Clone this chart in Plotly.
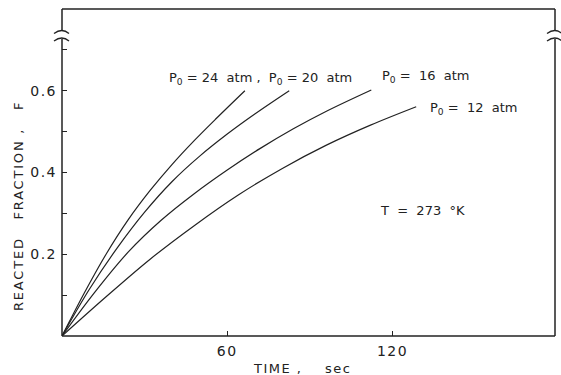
import plotly.graph_objects as go

# ---- data ----
t_24 = [0, 8, 16, 24, 32, 40, 48, 56, 66.4]
F_24 = [0, 0.104, 0.2, 0.284, 0.356, 0.42, 0.478, 0.532, 0.600]

t_20 = [0, 10, 20, 30, 40, 50, 60, 70, 82.5]
F_20 = [0, 0.115, 0.215, 0.303, 0.378, 0.44, 0.494, 0.543, 0.6]

t_16 = [0, 12, 24, 36, 48, 60, 72, 84, 96, 112.3]
F_16 = [0, 0.108, 0.205, 0.283, 0.348, 0.406, 0.459, 0.507, 0.550, 0.602]

t_12 = [0, 16, 32, 48, 64, 80, 96, 112, 128.6]
F_12 = [0, 0.096, 0.188, 0.27, 0.345, 0.41, 0.467, 0.516, 0.561]

x_tickvals = [60, 120]
x_ticktext = ["60", "120"]
y_tickvals = [0.2, 0.4, 0.6]
y_ticktext = ["0.2", "0.4", "0.6"]
y_minor_tickvals = [0.1, 0.3, 0.5, 0.7]

labels = [
    ("P<sub>0</sub> = 24  atm ,  P<sub>0</sub> = 20  atm", 38.2, 0.631),
    ("P<sub>0</sub> =  16  atm", 115.5, 0.634),
    ("P<sub>0</sub> =  12  atm", 132.9, 0.556),
    ("T  =  273  °K", 114.7, 0.308),
]

x_title = "TIME ,    sec"
y_title = "REACTED   FRACTION ,   F"

X_RANGE = [0, 179]
Y_RANGE = [0, 0.8]

W, H = 561, 375
ML, MR, MT, MB = 62, 6, 9, 39
PW, PH = W - ML - MR, H - MT - MB

INK = "#222222"
FONT = "DejaVu Sans"


def spaced(s, px_):
    return '<span style="letter-spacing:{}px">{}</span>'.format(px_, s)


fig = go.Figure()
for t, F in [(t_24, F_24), (t_20, F_20), (t_16, F_16), (t_12, F_12)]:
    fig.add_trace(go.Scatter(x=t, y=F, mode="lines",
                             line=dict(color=INK, width=1.2, shape="spline", smoothing=1),
                             showlegend=False, hoverinfo="skip"))


def px(xp):
    return (xp - ML) / PW


def py(yp):
    return (MT + PH - yp) / PH


shapes = []
lw = 1.5
# frame: bottom, top, left (broken), right (broken)
shapes.append(dict(type="line", xref="paper", yref="paper", x0=0, x1=1, y0=0, y1=0,
                   line=dict(color=INK, width=lw)))
shapes.append(dict(type="line", xref="paper", yref="paper", x0=0, x1=1, y0=1, y1=1,
                   line=dict(color=INK, width=lw)))
for xe in (ML, ML + PW):
    shapes.append(dict(type="line", xref="paper", yref="paper", x0=px(xe), x1=px(xe),
                       y0=0, y1=py(39), line=dict(color=INK, width=lw)))
    shapes.append(dict(type="line", xref="paper", yref="paper", x0=px(xe), x1=px(xe),
                       y0=py(31), y1=1, line=dict(color=INK, width=lw)))
    for ya in (33.5, 41):
        path = "M {:.5f},{:.5f} Q {:.5f},{:.5f} {:.5f},{:.5f}".format(
            px(xe - 8), py(ya), px(xe), py(ya - 6), px(xe + 7), py(ya))
        shapes.append(dict(type="path", xref="paper", yref="paper", path=path,
                           line=dict(color=INK, width=1.3)))

fig.update_layout(
    width=W, height=H,
    margin=dict(l=ML, r=MR, t=MT, b=MB),
    paper_bgcolor="white", plot_bgcolor="white",
    font=dict(family=FONT, color=INK),
    shapes=shapes,
    xaxis=dict(range=X_RANGE, showgrid=False, zeroline=False, showline=False,
               tickmode="array", tickvals=x_tickvals,
               ticktext=[spaced(s, 1.5) for s in x_ticktext],
               ticks="inside", ticklen=5, tickwidth=1.3, tickcolor=INK,
               ticklabelstandoff=5,
               tickfont=dict(size=14, family=FONT, color=INK)),
    yaxis=dict(range=Y_RANGE, showgrid=False, zeroline=False, showline=False,
               tickmode="array", tickvals=y_tickvals,
               ticktext=[spaced(s, 1.5) for s in y_ticktext],
               ticks="inside", ticklen=5, tickwidth=1.3, tickcolor=INK,
               ticklabelstandoff=4,
               tickfont=dict(size=14, family=FONT, color=INK),
               minor=dict(tickmode="array", tickvals=y_minor_tickvals, ticks="inside",
                          ticklen=5, tickwidth=1.3, tickcolor=INK, showgrid=False)),
)

for text, x, y in labels:
    fig.add_annotation(x=x, y=y, xref="x", yref="y", text=text, showarrow=False,
                       xanchor="left", yanchor="middle",
                       font=dict(size=13, family=FONT, color=INK))

fig.add_annotation(x=px(302), y=py(368), xref="paper", yref="paper",
                   xanchor="center", yanchor="middle",
                   text=spaced(x_title, 1.5), showarrow=False,
                   font=dict(size=13, family=FONT, color=INK))
fig.add_annotation(x=px(18), y=py(206), xref="paper", yref="paper",
                   xanchor="center", yanchor="middle",
                   text=spaced(y_title, 1.8), textangle=-90, showarrow=False,
                   font=dict(size=13, family=FONT, color=INK))

fig.write_html("out.html", config={"displayModeBar": False},
               post_script="document.body.style.margin='0px';document.body.style.overflow='hidden';")
